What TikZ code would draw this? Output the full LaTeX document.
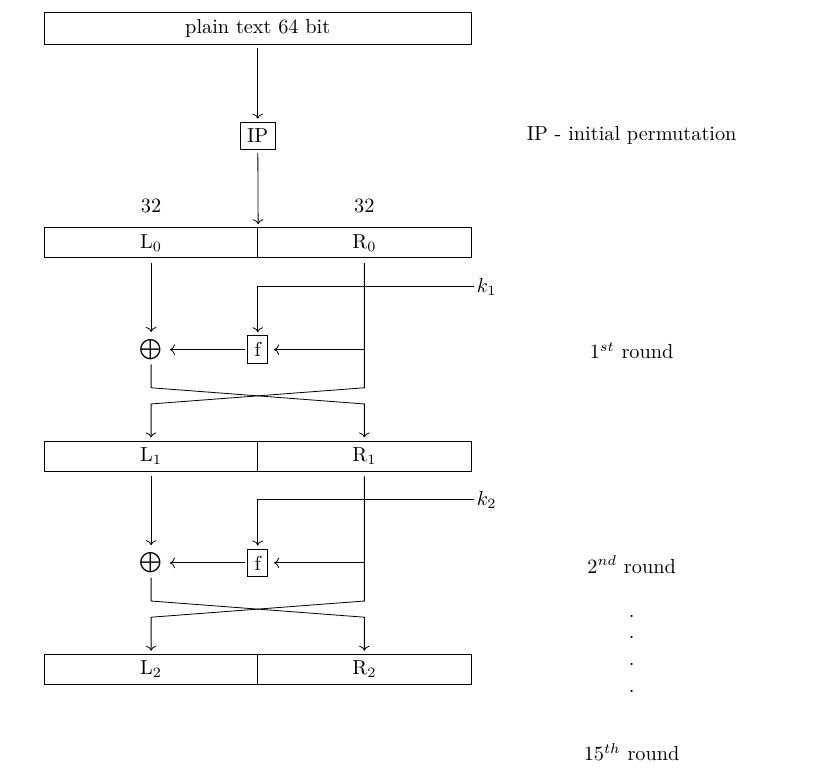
\documentclass[tikz,border=0pt]{standalone}
\usepackage{amsmath}
\usepackage{amssymb}
\usetikzlibrary{arrows.meta,positioning}

\begin{document}
\begin{tikzpicture}[
  half/.style={draw, minimum width=3.69cm, minimum height=0.52cm, inner sep=0pt},
  fbox/.style={draw, inner sep=3.33pt},
  wire/.style={->, shorten >=1.5pt},
]
  \useasboundingbox (-4.46,4.20) rectangle (9.85,-9.35);
  % Input and initial permutation
  \node[draw, minimum width=7.39cm, minimum height=0.53cm] (plain) at (0,3.71) {plain text 64 bit};
  \node[fbox] (ip) at (0,1.85) {IP};
  \node (iplabel) at (6.47,1.85) {IP - initial permutation};
  \node (bitsL) at (-1.845,0.64) {32};
  \node (bitsR) at (1.845,0.64) {32};
  % Halves
  \foreach \i in {0,1,2} {
    \node[half] (L\i) at (-1.845,-3.69*\i) {L$_\i$};
    \node[half] (R\i) at (1.845,-3.69*\i) {R$_\i$};
  }
  \draw[wire, shorten <=1.5pt] (plain) -- (ip);
  \draw[wire, shorten <=1.5pt] (ip) -- (L0.north east);
  % Rounds
  \foreach \i [evaluate=\i as \j using int(\i+1)] in {0,1} {
    \begin{scope}[yshift={-\i*3.69cm}]
      \node[fbox] (f\i) at (0,-1.85) {f};
      \node[inner sep=2pt] (xor\i) at (-1.845,-1.85) {$\bigoplus$};
      \coordinate (key\i) at (3.75,-0.76);
      \coordinate (tap\i) at (1.845,-1.85);
      \node[right=0pt of key\i, inner sep=1pt] (klabel\i) {$k_{\j}$};
      \draw[wire] ([yshift=-2.5pt]L\i.south) -- (xor\i);
      \draw[wire] (key\i) -| (f\i);
      \draw[wire, shorten >=3pt] (tap\i) -- (f\i);
      \draw[wire, shorten <=1pt] (f\i) -- (xor\i);
      \draw[wire] ([yshift=-2.5pt]R\i.south) -- (1.845,-2.51) -- (-1.845,-2.79) -- (L\j.north);
      \draw[wire] (xor\i) -- (-1.845,-2.51) -- (1.845,-2.79) -- (R\j.north);
    \end{scope}
  }
  % Round labels
  \node (round1) at (6.47,-1.87) {$1^{st}$ round};
  \node (round2) at (6.47,-5.57) {$2^{nd}$ round};
  \foreach \y [count=\k] in {-6.47,-6.83,-7.30,-7.77} {
    \node (dot\k) at (6.47,\y) {.};
  }
  \node (round15) at (6.47,-8.81) {$15^{th}$ round};
\end{tikzpicture}
\end{document}
